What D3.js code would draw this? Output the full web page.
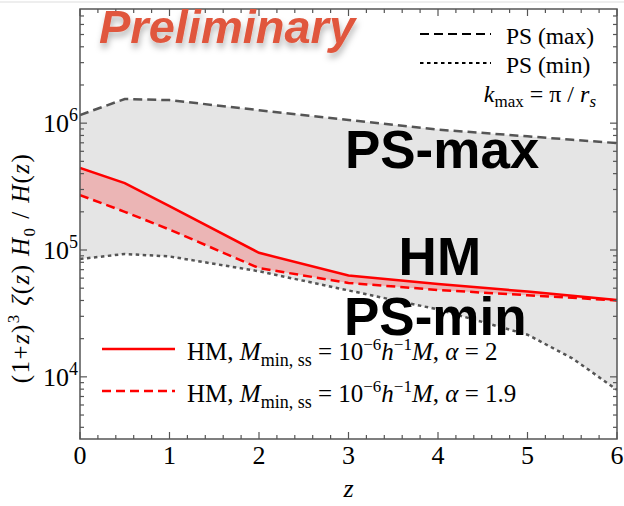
<!DOCTYPE html>
<html>
<head>
<meta charset="utf-8">
<script src="https://cdn.jsdelivr.net/npm/d3@7"></script>
<style>
  body { margin: 0; background: #fff; }
  text { font-family: "Liberation Serif", "DejaVu Serif", serif; fill: #000; }
</style>
</head>
<body>
<script>
var width = 624,
    height = 506;

// redshift grid
const zGrid = [0, 0.5, 1, 2, 3, 4, 5, 5.5, 6];
// PS bounds (max / min)
const psMax = [1.16e6, 1.55e6, 1.52e6, 1.265e6, 1.06e6, 8.9e5, 7.87e5, 7.4e5, 6.96e5];
const psMin = [8.5e4, 9.3e4, 8.9e4, 6.8e4, 4.8e4, 3.4e4, 2.15e4, 1.4e4, 7.9e3];
// HM, alpha = 2 (solid) and alpha = 1.9 (dashed)
const hmAlpha2 = [4.43e5, 3.37e5, 2.22e5, 9.5e4, 6.3e4, 5.4e4, 4.7e4, 4.35e4, 4.04e4];
const hmAlpha19 = [2.71e5, 2.0e5, 1.45e5, 7.2e4, 5.5e4, 4.84e4, 4.4e4, 4.2e4, 4.0e4];

const xTicks = [0, 1, 2, 3, 4, 5, 6];
const yTicks = [1e4, 1e5, 1e6];

var margin = {left: 80, right: 7, top: 9, bottom: 67};
var W = width - margin.left - margin.right,
    H = height - margin.top - margin.bottom;

var svg = d3.select("body").append("svg")
    .attr("width", width)
    .attr("height", height);

var defs = svg.append("defs");
defs.append("clipPath").attr("id", "clip")
  .append("rect").attr("width", W).attr("height", H);
var shadow = defs.append("filter").attr("id", "shadow")
    .attr("x", "-10%").attr("y", "-30%").attr("width", "130%").attr("height", "180%");
shadow.append("feDropShadow")
    .attr("dx", 1).attr("dy", 5).attr("stdDeviation", 3)
    .attr("flood-color", "#000").attr("flood-opacity", 0.28);

// faint line at the very top of the picture
svg.append("line").attr("x1", 0).attr("x2", width).attr("y1", 2).attr("y2", 2)
    .attr("stroke", "#eeeeee").attr("stroke-width", 2);

var g = svg.append("g").attr("transform", `translate(${margin.left},${margin.top})`);

var x = d3.scaleLinear().domain([0, 6]).range([0, W]);
var y = d3.scaleLog().domain([Math.pow(10, 3.51), Math.pow(10, 6.9)]).range([H, 0]);

var rows = zGrid.map((z, i) => ({z: z, max: psMax[i], min: psMin[i], a2: hmAlpha2[i], a19: hmAlpha19[i]}));

var plot = g.append("g").attr("clip-path", "url(#clip)");

// gray PS band
plot.append("path").datum(rows)
    .attr("fill", "#e5e5e5")
    .attr("d", d3.area().x(d => x(d.z)).y0(d => y(d.min)).y1(d => y(d.max)));

// red HM band
plot.append("path").datum(rows)
    .attr("fill", "#ebb5b5")
    .attr("d", d3.area().x(d => x(d.z)).y0(d => y(d.a19)).y1(d => y(d.a2)));

function line(key) {
  return d3.line().x(d => x(d.z)).y(d => y(d[key]));
}

plot.append("path").datum(rows).attr("d", line("max"))
    .attr("fill", "none").attr("stroke", "#555").attr("stroke-width", 2.5)
    .attr("stroke-dasharray", "9,5");
plot.append("path").datum(rows).attr("d", line("min"))
    .attr("fill", "none").attr("stroke", "#555").attr("stroke-width", 2.5)
    .attr("stroke-dasharray", "3.5,3.5");
plot.append("path").datum(rows).attr("d", line("a19"))
    .attr("fill", "none").attr("stroke", "#ff0000").attr("stroke-width", 2.5)
    .attr("stroke-dasharray", "9,5");
plot.append("path").datum(rows).attr("d", line("a2"))
    .attr("fill", "none").attr("stroke", "#ff0000").attr("stroke-width", 2.5);

// frame + ticks (inward, mirrored)
var axisCol = "#555";
g.append("rect").attr("width", W).attr("height", H)
    .attr("fill", "none").attr("stroke", axisCol).attr("stroke-width", 1.5);

var minorX = d3.range(0, 6.001, 0.2);
minorX.forEach(function (t) {
  var major = Math.abs(t - Math.round(t)) < 1e-6;
  var len = major ? 7 : 4;
  g.append("line").attr("x1", x(t)).attr("x2", x(t)).attr("y1", H).attr("y2", H - len)
      .attr("stroke", axisCol).attr("stroke-width", 1.2);
  g.append("line").attr("x1", x(t)).attr("x2", x(t)).attr("y1", 0).attr("y2", len)
      .attr("stroke", axisCol).attr("stroke-width", 1.2);
});
var minorY = [];
for (var e = 3; e <= 6; e++) for (var m = 1; m < 10; m++) minorY.push(m * Math.pow(10, e));
minorY.filter(v => v >= y.domain()[0] && v <= y.domain()[1]).forEach(function (v) {
  var major = yTicks.indexOf(v) >= 0;
  var len = major ? 7 : 4;
  g.append("line").attr("x1", 0).attr("x2", len).attr("y1", y(v)).attr("y2", y(v))
      .attr("stroke", axisCol).attr("stroke-width", 1.2);
  g.append("line").attr("x1", W).attr("x2", W - len).attr("y1", y(v)).attr("y2", y(v))
      .attr("stroke", axisCol).attr("stroke-width", 1.2);
});

// tick labels
g.selectAll(".xt").data(xTicks).join("text")
    .attr("x", d => x(d)).attr("y", H + 25)
    .attr("text-anchor", "middle").style("font-size", "26px")
    .text(d => d);

var yt = g.selectAll(".yt").data(yTicks).join("text")
    .attr("x", -2).attr("y", d => y(d) + 9)
    .attr("text-anchor", "end").style("font-size", "26px");
yt.append("tspan").text("10");
yt.append("tspan").attr("dy", -11).style("font-size", "18px").text(d => Math.round(Math.log10(d)));

// axis titles
g.append("text").attr("x", x(3)).attr("y", H + 58)
    .attr("text-anchor", "middle").style("font-size", "26px").style("font-style", "italic")
    .text("z");

var yl = svg.append("text")
    .attr("transform", "translate(29,268) rotate(-90)")
    .attr("text-anchor", "middle").style("font-size", "25px")
    .style("letter-spacing", "1.4px");
yl.append("tspan").text("(1+");
yl.append("tspan").style("font-style", "italic").text("z");
yl.append("tspan").text(")");
yl.append("tspan").attr("dy", -10).style("font-size", "17px").text("3");
yl.append("tspan").attr("dy", 10).text(" ");
yl.append("tspan").style("font-style", "italic").text("ζ");
yl.append("tspan").text("(");
yl.append("tspan").style("font-style", "italic").text("z");
yl.append("tspan").text(") ");
yl.append("tspan").style("font-style", "italic").text("H");
yl.append("tspan").attr("dy", 6).style("font-size", "17px").text("0");
yl.append("tspan").attr("dy", -6).text(" / ");
yl.append("tspan").style("font-style", "italic").text("H");
yl.append("tspan").text("(");
yl.append("tspan").style("font-style", "italic").text("z");
yl.append("tspan").text(")");

// big region labels
var big = [
  {t: "PS-max", z: 2.96, v: 4.43e5},
  {t: "HM", z: 3.56, v: 6.35e4},
  {t: "PS-min", z: 2.95, v: 2.13e4}
];
g.selectAll(".big").data(big).join("text")
    .attr("x", d => x(d.z)).attr("y", d => y(d.v))
    .style("font-family", "'Liberation Sans', Arial, sans-serif")
    .style("font-weight", "bold").style("font-size", "53px")
    .text(d => d.t);

// Preliminary stamp
svg.append("text").attr("x", 99).attr("y", 43)
    .style("font-family", "'Liberation Sans', Arial, sans-serif")
    .style("font-weight", "bold").style("font-style", "italic")
    .style("font-size", "47px").style("fill", "#e0573e")
    .attr("filter", "url(#shadow)")
    .text("Preliminary");

// top-right legend
var legTop = [
  {t: "PS (max)", dash: "9,5", y: 34},
  {t: "PS (min)", dash: "3.5,3.5", y: 63}
];
legTop.forEach(function (l) {
  svg.append("line").attr("x1", 420).attr("x2", 491).attr("y1", l.y).attr("y2", l.y)
      .attr("stroke", "#000").attr("stroke-width", 2).attr("stroke-dasharray", l.dash);
  svg.append("text").attr("x", 506).attr("y", l.y + 10).style("font-size", "23.5px").text(l.t);
});
var kt = svg.append("text").attr("x", 596).attr("y", 102)
    .attr("text-anchor", "end").style("font-size", "24px");
kt.append("tspan").style("font-style", "italic").text("k");
kt.append("tspan").attr("dy", 5).style("font-size", "17px").text("max");
kt.append("tspan").attr("dy", -5).text(" = π / ");
kt.append("tspan").style("font-style", "italic").text("r");
kt.append("tspan").attr("dy", 5).style("font-size", "17px").style("font-style", "italic").text("s");

// bottom-left legend
var legBot = [
  {alpha: "2", dash: null, y: 349},
  {alpha: "1.9", dash: "9,5", y: 391}
];
legBot.forEach(function (l) {
  svg.append("line").attr("x1", 102).attr("x2", 175).attr("y1", l.y).attr("y2", l.y)
      .attr("stroke", "#ff0000").attr("stroke-width", 2.5)
      .attr("stroke-dasharray", l.dash);
  var t = svg.append("text").attr("x", 187).attr("y", l.y + 11).style("font-size", "25px");
  t.append("tspan").text("HM, ");
  t.append("tspan").style("font-style", "italic").text("M");
  t.append("tspan").attr("dy", 6).style("font-size", "18px").text("min, ss");
  t.append("tspan").attr("dy", -6).text(" = 10");
  t.append("tspan").attr("dy", -10).style("font-size", "17px").text("−6");
  t.append("tspan").attr("dy", 10).style("font-style", "italic").text("h");
  t.append("tspan").attr("dy", -10).style("font-size", "17px").text("−1");
  t.append("tspan").attr("dy", 10).style("font-style", "italic").text("M");
  t.append("tspan").text(", ");
  t.append("tspan").style("font-style", "italic").text("α");
  t.append("tspan").text(" = " + l.alpha);
});
</script>
</body>
</html>
